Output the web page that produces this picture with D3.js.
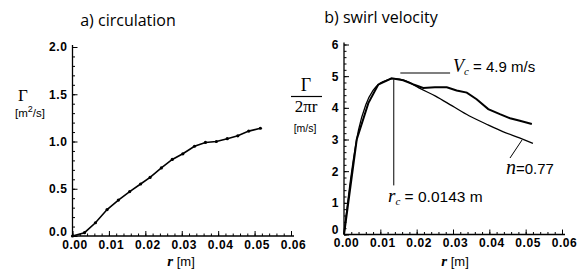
<!DOCTYPE html>
<html><head><meta charset="utf-8">
<script src="https://cdn.jsdelivr.net/npm/d3@7"></script>
<style>
body{margin:0;background:#fff;}
text{fill:#000;}
.tick text{font-family:"Liberation Sans",Arial,sans-serif;font-weight:bold;font-size:12px;letter-spacing:0.6px;}
</style></head>
<body><svg id="c" width="585" height="274"></svg>
<script>
// a) circulation
const circR = [0, 0.0033, 0.0063, 0.0095, 0.0126, 0.0157, 0.0187, 0.0213, 0.0244, 0.0274, 0.0303, 0.0335, 0.0365, 0.0395, 0.0425, 0.0454, 0.0484, 0.0516];
const circG = [0, 0.035, 0.14, 0.28, 0.38, 0.47, 0.55, 0.62, 0.72, 0.81, 0.87, 0.95, 0.99, 1.00, 1.03, 1.06, 1.11, 1.14];
// b) swirl velocity, measured
const measR = [0, 0.0035, 0.0067, 0.0094, 0.0131, 0.0163, 0.0191, 0.0218, 0.025, 0.0283, 0.031, 0.0338, 0.0365, 0.0397, 0.0429, 0.0457, 0.0484, 0.0517];
const measV = [0, 3.0, 4.15, 4.73, 4.93, 4.87, 4.74, 4.63, 4.65, 4.65, 4.55, 4.48, 4.27, 3.96, 3.80, 3.67, 3.59, 3.49];
// b) model n=0.77
const modR = [0, 0.002, 0.004, 0.006, 0.008, 0.010, 0.012, 0.0137, 0.017, 0.0206, 0.0252, 0.0298, 0.0344, 0.0391, 0.0437, 0.0483, 0.052];
const modV = [0, 1.9, 3.3, 4.1, 4.55, 4.78, 4.88, 4.92, 4.85, 4.63, 4.37, 4.06, 3.75, 3.49, 3.25, 3.05, 2.88];
const xTicks = [0, 0.01, 0.02, 0.03, 0.04, 0.05, 0.06];
const xTickLabels = ["0.00", "0.01", "0.02", "0.03", "0.04", "0.05", "0.06"];
const yTicksA = [0, 0.5, 1.0, 1.5, 2.0];
const yTickLabelsA = ["0.0", "0.5", "1.0", "1.5", "2.0"];
const yTicksB = [0, 1, 2, 3, 4, 5, 6];
const yTickLabelsB = ["0", "1", "2", "3", "4", "5", "6"];
const rcLine = 0.0137, rcLineBottom = 1.55;
const vcLine = [0.0155, 0.0292], vcLineV = 5.1;

const svg = d3.select("#c");

function range(a, b, s){const o=[];for(let v=a; v<=b+1e-9; v+=s) o.push(+v.toFixed(4));return o;}

function panel(xr, yr, ydom, yTicks, yLabels, yMinorStep){
  const x = d3.scaleLinear().domain([0,0.06]).range(xr);
  const y = d3.scaleLinear().domain(ydom).range(yr);
  const g = svg.append("g");
  const gxm = g.append("g").attr("transform",`translate(0,${yr[0]})`)
    .call(d3.axisTop(x).tickValues(range(0,0.06,0.002)).tickSize(2.5).tickFormat(""));
  gxm.select(".domain").remove();
  const gym = g.append("g").attr("transform",`translate(${xr[0]},0)`)
    .call(d3.axisRight(y).tickValues(range(ydom[0],ydom[1],yMinorStep)).tickSize(2.5).tickFormat(""));
  gym.select(".domain").remove();
  const gx = g.append("g").attr("transform",`translate(0,${yr[0]})`)
    .call(d3.axisBottom(x).tickValues(xTicks).tickSizeInner(-5).tickSizeOuter(0).tickPadding(2)
      .tickFormat((d,i)=>xTickLabels[i]));
  gx.select(".domain").attr("d",`M${xr[0]},0H${xr[1]+3}`).attr("stroke-width",1.3);
  gx.selectAll(".tick text").attr("dy","0.9em").attr("dx","2");
  const gy = g.append("g").attr("transform",`translate(${xr[0]},0)`)
    .call(d3.axisLeft(y).tickValues(yTicks).tickSizeInner(-5).tickSizeOuter(0).tickPadding(5)
      .tickFormat((d,i)=>yLabels[i]));
  gy.select(".domain").attr("d",`M0,${yr[0]}V${yr[1]-2}`).attr("stroke-width",1.3);
  gy.selectAll(".tick text").filter(d=>d===0).attr("dy","-0.05em");
  g.selectAll(".tick line").attr("stroke-width",1);
  return {x,y,g};
}

// Panel a
const A = panel([72.5,291],[236,47],[0,2],yTicksA,yTickLabelsA,0.1);
A.g.append("path").datum(circR.map((r,i)=>[r,circG[i]]))
  .attr("fill","none").attr("stroke","#000").attr("stroke-width",1.6)
  .attr("d", d3.line().x(d=>A.x(d[0])).y(d=>A.y(d[1])));
A.g.selectAll("circle.p").data(circR.map((r,i)=>[r,circG[i]])).enter().append("circle")
  .attr("cx",d=>A.x(d[0])).attr("cy",d=>A.y(d[1])).attr("r",1.6).attr("fill","#000");

// Panel b
const B = panel([344,562],[234.5,44.5],[0,6],yTicksB,yTickLabelsB,0.2);
B.g.append("path").datum(modR.map((r,i)=>[r,modV[i]]))
  .attr("fill","none").attr("stroke","#000").attr("stroke-width",1.3)
  .attr("d", d3.line().curve(d3.curveMonotoneX).x(d=>B.x(d[0])).y(d=>B.y(d[1])));
B.g.append("path").datum(measR.map((r,i)=>[r,measV[i]]))
  .attr("fill","none").attr("stroke","#000").attr("stroke-width",2)
  .attr("d", d3.line().x(d=>B.x(d[0])).y(d=>B.y(d[1])));
B.g.append("line").attr("x1",B.x(rcLine)).attr("x2",B.x(rcLine))
  .attr("y1",B.y(4.9)).attr("y2",B.y(rcLineBottom)).attr("stroke","#000").attr("stroke-width",1);
B.g.append("line").attr("x1",B.x(vcLine[0])).attr("x2",B.x(vcLine[1]))
  .attr("y1",B.y(vcLineV)).attr("y2",B.y(vcLineV)).attr("stroke","#000").attr("stroke-width",1.1);
B.g.append("line").attr("x1",522).attr("y1",140).attr("x2",510).attr("y2",158)
  .attr("stroke","#000").attr("stroke-width",1);

const sans = "'Liberation Sans',Arial,sans-serif";
const serif = "'Liberation Serif','DejaVu Serif',serif";
function txt(x,y,parts,size,anchor){
  const t = svg.append("text").attr("x",x).attr("y",y).attr("font-size",size)
    .attr("text-anchor",anchor||"start");
  parts.forEach(p=>{
    const s=t.append("tspan").text(p.t).attr("font-family",p.f||sans);
    if(p.i) s.attr("font-style","italic");
    if(p.b) s.attr("font-weight","bold");
    if(p.dy) s.attr("dy",p.dy);
    if(p.s) s.attr("font-size",p.s);
  });
  return t;
}
// titles
txt(128,26,[{t:"a) circulation",f:"'Open Sans',sans-serif"}],16,"middle");
txt(381,23,[{t:"b) swirl velocity",f:"'Open Sans',sans-serif"}],16,"middle");
// axis labels
txt(181,266,[{t:"r",f:serif,i:1,b:1,s:15},{t:" [m]"}],13,"middle");
txt(455,266,[{t:"r",f:serif,i:1,b:1,s:15},{t:" [m]"}],13,"middle");
txt(23,101,[{t:"Γ",f:serif}],17,"middle");
txt(30,117,[{t:"[m"},{t:"2",dy:-5,s:9},{t:"/s]",dy:5}],11.5,"middle");
txt(306,91,[{t:"Γ",f:serif}],18,"middle");
svg.append("line").attr("x1",291).attr("x2",322).attr("y1",96.5).attr("y2",96.5).attr("stroke","#000").attr("stroke-width",1.2);
txt(306,112,[{t:"2πr",f:serif,s:17}],17,"middle");
txt(305,132,[{t:"[m/s]"}],10.5,"middle");
// annotation texts
txt(453,72,[{t:"V",f:serif,i:1,s:18},{t:"c",f:serif,i:1,s:11,dy:3},{t:" = 4.9 m/s",dy:-3}],15);
txt(388,202,[{t:"r",f:serif,i:1,s:19},{t:"c",f:serif,i:1,s:11,dy:3},{t:" = 0.0143 m",dy:-3}],15.5);
txt(506,174,[{t:"n",f:serif,i:1,s:20},{t:"=0.77"}],15);
</script></body></html>
